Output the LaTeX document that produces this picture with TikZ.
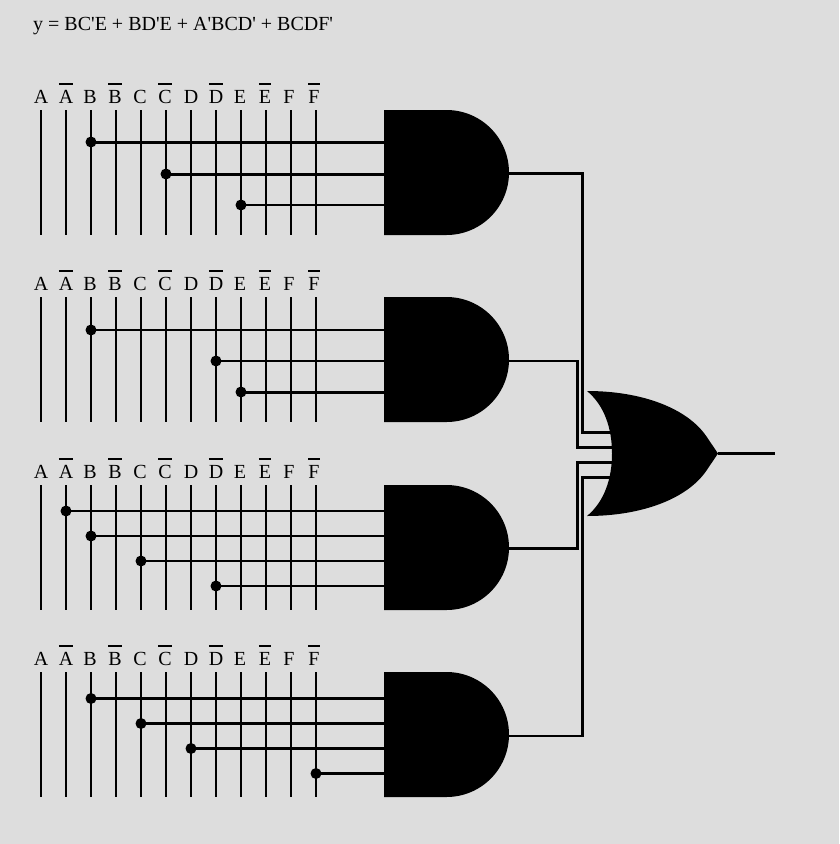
\documentclass[tikz,border=0pt]{standalone}
\usepackage{fontspec}
\setmainfont{Liberation Serif}
\usetikzlibrary{positioning, calc}
\definecolor{pagegray}{RGB}{221,221,221}
\newcommand{\nbar}[1]{\setbox0\hbox{#1}\rlap{\rule[18.5pt]{\wd0}{1.7pt}}#1}

\tikzset{
    wire/.style={line width=2.4pt, black},
    thickwire/.style={line width=3pt, black},
    signal/.style={anchor=base, inner sep=0pt, font=\fontsize{20}{24}\selectfont},
    junction/.style={circle, fill=black, inner sep=0pt, minimum size=11pt},
    andgate/.style={minimum width=125pt, minimum height=125pt, inner sep=0pt, path picture={
        \fill (path picture bounding box.north west) -- ($(path picture bounding box.north east)+(-62.5pt,0)$)
            arc (90:-90:62.5pt) -- (path picture bounding box.south west) -- cycle;}},
    orgate/.style={minimum width=131pt, minimum height=125pt, inner sep=0pt, path picture={
        \fill [shift={(path picture bounding box.center)}] (-65.5,-62.5)
            .. controls (-10,-62.5) and (35,-45) .. (54,-17) -- (65.5,0) -- (54,17)
            .. controls (35,45) and (-10,62.5) .. (-65.5,62.5)
            .. controls (-48,48) and (-40.5,25) .. (-40.5,0)
            .. controls (-40.5,-25) and (-48,-48) .. (-65.5,-62.5) -- cycle;}}
}

\begin{document}
\begin{tikzpicture}[x=1pt, y=-1pt]
    \useasboundingbox [fill=pagegray] (0,0) rectangle (839,844);

    \node [anchor=base west, inner sep=0pt, font=\fontsize{20}{24}\selectfont] (expr) at (33,30.5)
        {y = BC\textquotesingle E + BD\textquotesingle E + A\textquotesingle BCD\textquotesingle{} + BCDF\textquotesingle};

    % Gates
    \node [andgate] (and1) at (446.5,172.5) {};
    \node [andgate] (and2) at (446.5,359.5) {};
    \node [andgate] (and3) at (446.5,547.5) {};
    \node [andgate] (and4) at (446.5,734.5) {};
    \node [orgate] (or1) at (652.5,453.5) {};

    % Signal columns, one block per gate
    \foreach \n/\top in {1/110, 2/297, 3/485, 4/672} {
        \foreach \i/\x/\lx/\txt in {1/41/41/A, 2/66/66/\nbar{A}, 3/91/90/B, 4/116/115/\nbar{B}, 5/141/140/C, 6/166/165/\nbar{C},
                7/191/191/D, 8/216/216/\nbar{D}, 9/241/240/E, 10/266/265/\nbar{E}, 11/291/289/F, 12/316/314/\nbar{F}} {
            \node [signal] (s\n-\i) at (\lx,\top-7) {\txt};
            \coordinate (t\n-\i) at (\x,\top);
            \coordinate (b\n-\i) at (\x,\top+125);
            \draw [wire] (t\n-\i) -- (b\n-\i);
        }
    }

    % Gate 1
    \node [junction] (j1a) at (91,142) {};
    \node [junction] (j1b) at (166,174) {};
    \node [junction] (j1c) at (241,205) {};
    \draw [thickwire] (j1a.center) -- (j1a -| and1.west);
    \draw [thickwire] (j1b.center) -- (j1b -| and1.west);
    \draw [wire] (j1c.center) -- (j1c -| and1.west);

    % Gate 2
    \node [junction] (j2a) at (91,330) {};
    \node [junction] (j2b) at (216,361) {};
    \node [junction] (j2c) at (241,392) {};
    \draw [wire] (j2a.center) -- (j2a -| and2.west);
    \draw [wire] (j2b.center) -- (j2b -| and2.west);
    \draw [thickwire] (j2c.center) -- (j2c -| and2.west);

    % Gate 3
    \node [junction] (j3a) at (66,511) {};
    \node [junction] (j3b) at (91,536) {};
    \node [junction] (j3c) at (141,561) {};
    \node [junction] (j3d) at (216,586) {};
    \draw [wire] (j3a.center) -- (j3a -| and3.west);
    \draw [wire] (j3b.center) -- (j3b -| and3.west);
    \draw [wire] (j3c.center) -- (j3c -| and3.west);
    \draw [wire] (j3d.center) -- (j3d -| and3.west);

    % Gate 4
    \node [junction] (j4a) at (91,698.5) {};
    \node [junction] (j4b) at (141,723.5) {};
    \node [junction] (j4c) at (191,748.5) {};
    \node [junction] (j4d) at (316,773.5) {};
    \draw [thickwire] (j4a.center) -- (j4a -| and4.west);
    \draw [thickwire] (j4b.center) -- (j4b -| and4.west);
    \draw [thickwire] (j4c.center) -- (j4c -| and4.west);
    \draw [thickwire] (j4d.center) -- (j4d -| and4.west);

    % Gates to OR
    \coordinate (out1) at ($(and1.east)+(-2,1)$);
    \coordinate (out2) at ($(and2.east)+(-2,1.5)$);
    \coordinate (out3) at ($(and3.east)+(-2,0.5)$);
    \coordinate (out4) at ($(and4.east)+(-2,1.5)$);
    \coordinate (in1) at (613,432.5);
    \coordinate (in2) at (613,447.5);
    \coordinate (in3) at (613,462.5);
    \coordinate (in4) at (613,477.5);
    \coordinate (bus1) at (582.5,0);
    \coordinate (bus2) at (577.5,0);
    \draw [thickwire] (out1) -- (out1 -| bus1) -- (in1 -| bus1) -- (in1);
    \draw [wire] (out2) -- (out2 -| bus2) -- (in2 -| bus2) -- (in2);
    \draw [thickwire] (out3) -- (out3 -| bus2) -- (in3 -| bus2) -- (in3);
    \draw [wire] (out4) -- (out4 -| bus1) -- (in4 -| bus1) -- (in4);

    % Output
    \coordinate (out) at (775,0);
    \draw [thickwire] (or1.east) -- (or1.east -| out);
\end{tikzpicture}
\end{document}
